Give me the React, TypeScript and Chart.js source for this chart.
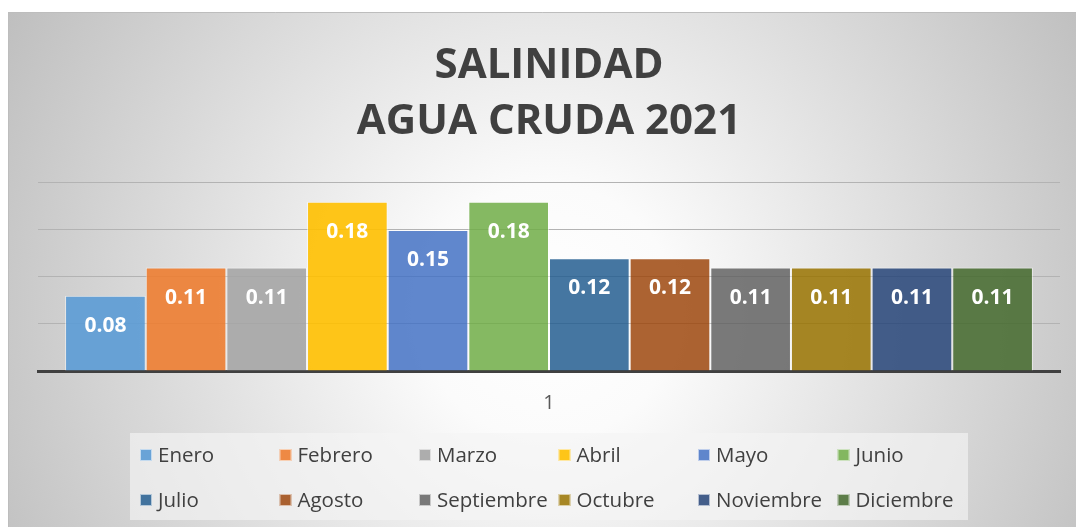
import React, { useEffect, useRef } from "react";
import { Chart, registerables } from "chart.js";

Chart.register(...registerables);

const categories = ["1"];
const months = [
  "Enero", "Febrero", "Marzo", "Abril", "Mayo", "Junio",
  "Julio", "Agosto", "Septiembre", "Octubre", "Noviembre", "Diciembre",
];
const values = [0.08, 0.11, 0.11, 0.18, 0.15, 0.18, 0.12, 0.12, 0.11, 0.11, 0.11, 0.11];
const colors = [
  "rgba(91,155,213,0.9)", "rgba(237,125,49,0.9)", "rgba(165,165,165,0.9)", "rgba(255,192,0,0.9)",
  "rgba(68,114,196,0.85)", "rgba(112,173,71,0.85)", "rgba(37,94,145,0.85)", "rgba(158,72,14,0.85)",
  "rgba(99,99,99,0.85)", "rgba(153,115,0,0.85)", "rgba(38,68,120,0.85)", "rgba(67,104,43,0.85)",
];
const titleLines = ["SALINIDAD", "AGUA CRUDA 2021"];

const W = 1068;
const H = 515;

const bgPlugin = {
  id: "bg",
  beforeDraw(chart: any) {
    const ctx = chart.ctx;
    ctx.save();
    const g = ctx.createRadialGradient(540, 300, 0, 540, 300, 640);
    g.addColorStop(0, "#ffffff");
    g.addColorStop(0.2, "#fbfbfb");
    g.addColorStop(1, "#bcbcbc");
    ctx.fillStyle = g;
    ctx.fillRect(0, 0, chart.width, chart.height);
    ctx.strokeStyle = "#bdbdbd";
    ctx.lineWidth = 1;
    ctx.beginPath();
    ctx.moveTo(0.5, chart.height);
    ctx.lineTo(0.5, 0.5);
    ctx.lineTo(chart.width, 0.5);
    ctx.stroke();
    ctx.restore();
  },
};

const labelPlugin = {
  id: "valueLabels",
  afterDatasetsDraw(chart: any) {
    const ctx = chart.ctx;
    ctx.save();
    ctx.font = "bold 21px 'Open Sans'";
    ctx.fillStyle = "#ffffff";
    ctx.textAlign = "center";
    ctx.textBaseline = "middle";
    chart.data.datasets.forEach((ds: any, i: number) => {
      const meta = chart.getDatasetMeta(i);
      meta.data.forEach((bar: any, j: number) => {
        const v = ds.data[j];
        ctx.fillText(v.toFixed(2), bar.x, bar.y + 30);
      });
    });
    ctx.restore();
  },
};

const legendPlugin = {
  id: "gridLegend",
  afterDraw(chart: any) {
    const ctx = chart.ctx;
    ctx.save();
    ctx.fillStyle = "rgba(245,245,245,0.65)";
    ctx.fillRect(122, 421, 838, 87);
    ctx.font = "20.5px 'Open Sans'";
    ctx.textBaseline = "middle";
    ctx.textAlign = "left";
    const startX = 132;
    const colW = 139.5;
    const rows = [443, 488];
    chart.data.datasets.forEach((ds: any, i: number) => {
      const col = i % 6;
      const row = Math.floor(i / 6);
      const x = startX + col * colW;
      const y = rows[row];
      ctx.fillStyle = ds.backgroundColor;
      ctx.fillRect(x, y - 6, 12, 12);
      ctx.strokeStyle = "rgba(255,255,255,0.6)";
      ctx.lineWidth = 1;
      ctx.strokeRect(x + 0.5, y - 5.5, 11, 11);
      ctx.fillStyle = "#404040";
      ctx.fillText(ds.label, x + 18, y + 1);
    });
    ctx.restore();
  },
};

export default function App() {
  const ref = useRef<HTMLCanvasElement>(null);
  useEffect(() => {
    if (!ref.current) return;
    const chart = new Chart(ref.current, {
      type: "bar",
      data: {
        labels: categories,
        datasets: months.map((m, i) => ({
          label: m,
          data: [values[i]],
          backgroundColor: colors[i],
          borderColor: "rgba(255,255,255,0.55)",
          borderWidth: 1,
          categoryPercentage: 0.947,
          barPercentage: 1,
        })),
      },
      options: {
        responsive: false,
        animation: false,
        layout: { padding: { left: 30, right: 16, top: 0, bottom: 92 } },
        plugins: {
          legend: { display: false },
          tooltip: { enabled: false },
          title: {
            display: true,
            text: titleLines,
            color: "#404040",
            font: { family: "'Open Sans'", size: 42, weight: "bold", lineHeight: 1.333 },
            padding: { top: 26, bottom: 33 },
          },
        },
        scales: {
          x: {
            grid: { display: false, drawTicks: false },
            border: { display: true, color: "#404040", width: 3 },
            ticks: { color: "#595959", font: { family: "'Open Sans'", size: 20 }, padding: 20 },
          },
          y: {
            min: 0,
            max: 0.2,
            ticks: { display: false, stepSize: 0.05 },
            grid: { color: "#b3b3b3", drawTicks: false },
            border: { display: false },
          },
        },
      },
      plugins: [bgPlugin, labelPlugin, legendPlugin],
    });
    return () => chart.destroy();
  }, []);
  return (
    <div style={{ position: "absolute", left: 8, top: 12, width: W, height: H }}>
      <canvas ref={ref} width={W} height={H} style={{ display: "block" }} />
    </div>
  );
}
